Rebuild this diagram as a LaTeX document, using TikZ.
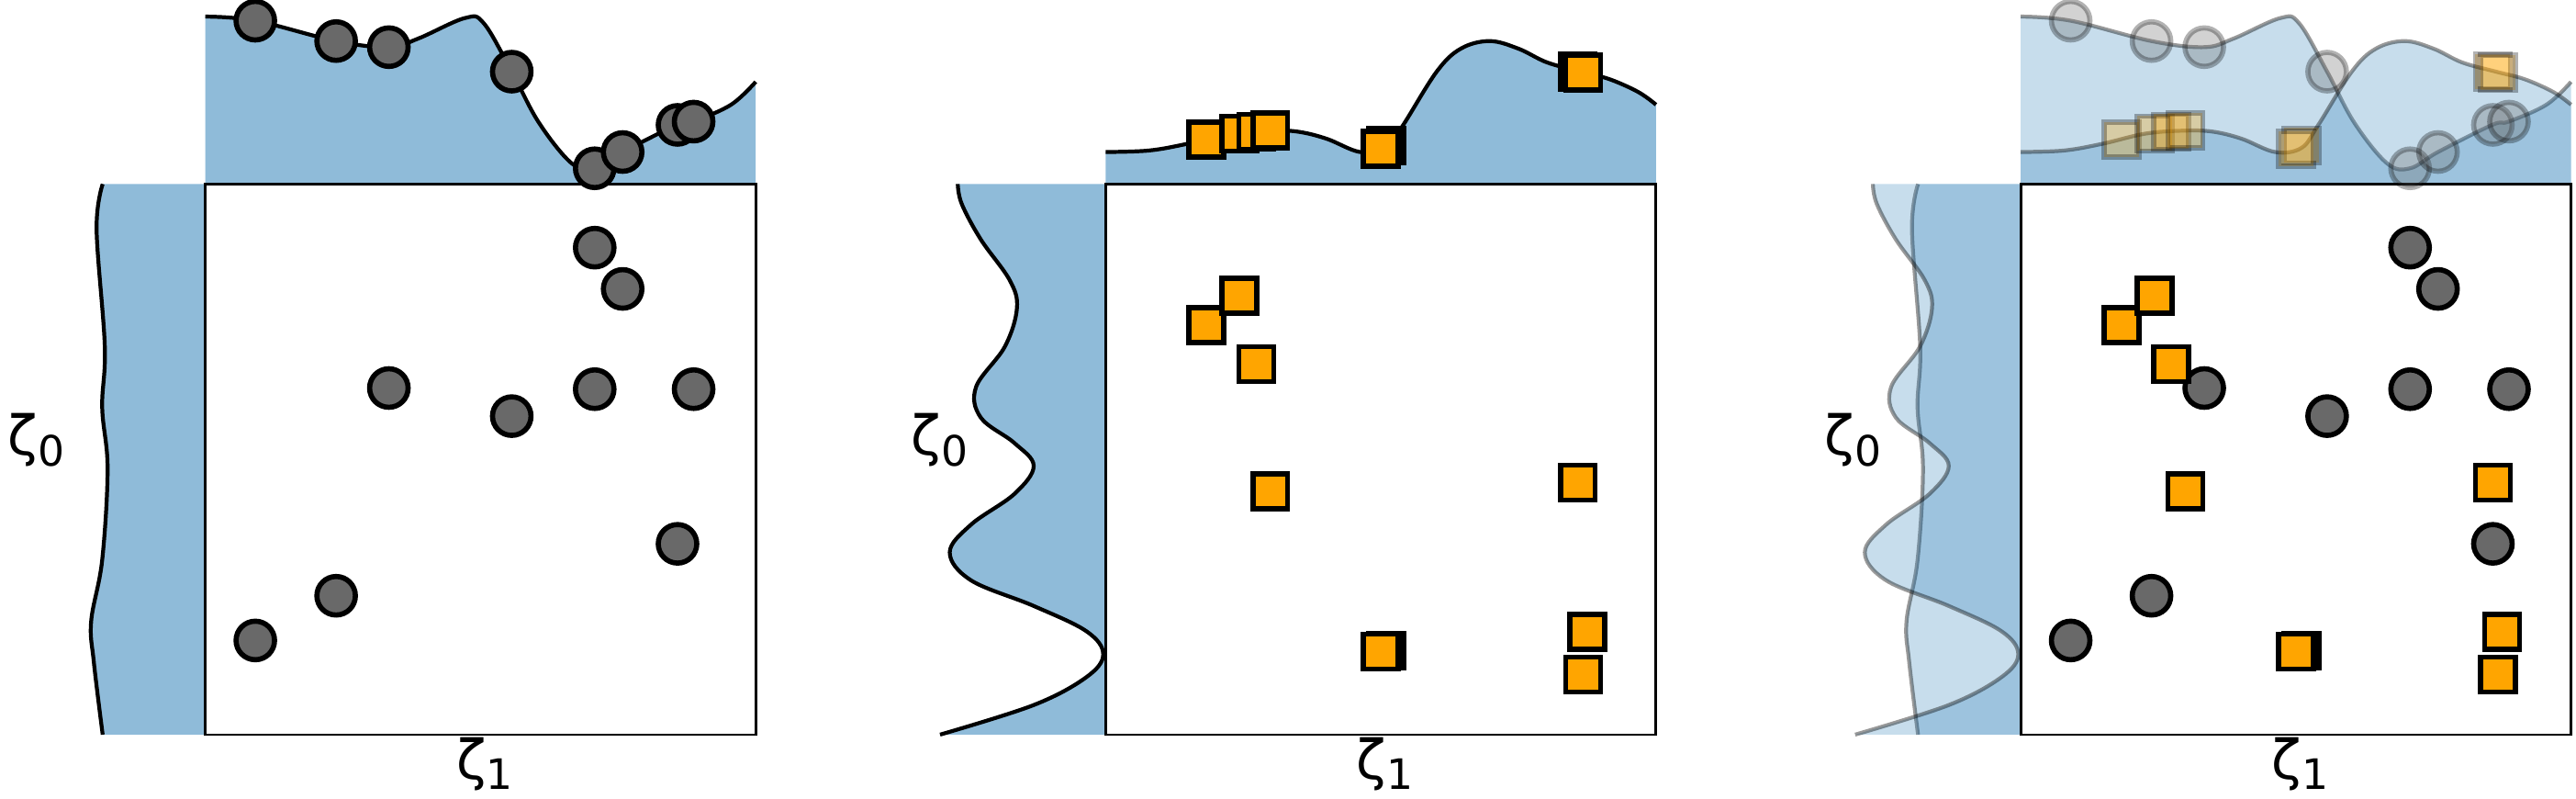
\documentclass[tikz,border=0pt]{standalone}
\usepackage{fontspec}
\setmainfont{DejaVu Sans}
\usepackage{tikz}

\definecolor{kdeblue}{RGB}{31,119,180}
\definecolor{ptgray}{RGB}{105,105,105}
\definecolor{ptorange}{RGB}{255,165,0}

% marginal density curves, relative to the top left corner of a box
\newcommand\kdetop[3]{%
  \fill[#1] (0,0) -- plot[smooth,tension=0.6] coordinates {#3} -- (335,0) -- cycle;
  \draw[kdeline,#2] plot[smooth,tension=0.6] coordinates {#3};}
\newcommand\kdeleft[3]{%
  \fill[#1] (0,0) -- plot[smooth,tension=0.6] coordinates {#3} -- (0,335) -- cycle;
  \draw[kdeline,#2] plot[smooth,tension=0.6] coordinates {#3};}
\newcommand\topA[2]{\kdetop{#1}{#2}{(0,-101.9) (30.4,-99.4) (79.6,-87) (111.7,-83.3) (129.5,-88.5) (158,-101) (169.5,-97.8) (186.5,-68.4) (203,-37.4) (223,-12.6) (237,-9.6) (254,-19.5) (287,-36) (297,-38) (320,-48.3) (335,-62.2)}}
\newcommand\leftA[2]{\kdeleft{#1}{#2}{(-62.5,0) (-66.2,27.6) (-61.2,98.8) (-62.8,135.9) (-59.5,173.1) (-62.8,228.8) (-69.5,265.9) (-67.9,290.7) (-62.5,335)}}
\newcommand\topB[2]{\kdetop{#1}{#2}{(0,-19.5) (26.3,-20.4) (49.7,-24.5) (76,-30.7) (99.3,-32.5) (116.8,-31.9) (134.4,-27.6) (154.8,-19.5) (170.9,-22) (181.1,-35.9) (201.5,-68.4) (216.2,-82.4) (233.7,-87) (251.2,-82.4) (268.7,-74) (289.2,-68.4) (306.7,-63.8) (324.2,-56) (335,-48.3)}}
\newcommand\leftB[2]{\kdeleft{#1}{#2}{(-90,0) (-87.6,12.1) (-76,33.7) (-58.4,58.5) (-54,75.5) (-61.3,98.8) (-78.9,123.5) (-76,142.1) (-55.5,157.6) (-43.8,171.5) (-55.5,188.5) (-81.8,207.1) (-94.9,224.1) (-81.8,241.2) (-43.8,256.7) (-11.7,272.1) (-1.5,286.1) (-11.7,300) (-43.8,317) (-100.8,335)}}

\newcommand\circlist{30.4/277.7,79.6/250.5,111.7/124.1,186.5/141.2,237/124.8,297.2/124.8,237/38.7,254/63.8,287.4/218.9}
\newcommand\circtop{30.4/-99.4,79.6/-87,111.7/-83.3,186.5/-68.4,237/-9.6,254/-19.5,287.4/-36,297.2/-38}
\newcommand\sqlist{61.3/85.8,81.5/67.8,91.7/109.6,100.2/187,287.4/181.7,170.9/283.9,167.4/284.5,293/272.4,290.6/298.5}
\newcommand\sqtop{61.3/-27.2,81.5/-30.7,91.7/-31.9,100.2/-32.5,170.9/-23.5,167.4/-21.4,287.4/-68.4,290.6/-67.8}

\newcommand\zlab[1]{ζ\raisebox{-0.35ex}{\fontsize{13}{13}\selectfont #1}}

\begin{document}
\begin{tikzpicture}[x=0.01791cm, y=-0.01791cm,
    kde/.style={fill=kdeblue, fill opacity=0.5},
    kdelight/.style={fill=kdeblue, fill opacity=0.25},
    kdeline/.style={line width=1.2pt},
    dot/.style={circle, draw, line width=1.6pt, fill=ptgray, minimum size=0.42cm, inner sep=0pt},
    sq/.style={rectangle, draw, line width=1.6pt, fill=ptorange, minimum size=0.38cm, inner sep=0pt},
    faded/.style={opacity=0.3},
    axlabel/.style={font=\fontsize{17}{20}\selectfont, inner sep=0pt}]
  \useasboundingbox (0,0) rectangle (1568,486);

  % left panel
  \begin{scope}[shift={(125,112)}]
    \topA{kde}{}
    \leftA{kde}{}
    \draw[line width=0.8pt] (0,0) rectangle (335,335);
    \foreach \x/\y [count=\i] in \circlist
      \node[dot] (a\i) at (\x,\y) {};
    \foreach \x/\y [count=\i] in \circtop
      \node[dot] (ta\i) at (\x,\y) {};
    \node[axlabel] (za0) at (-103,156) {\zlab{0}};
    \node[axlabel] (za1) at (170,353) {\zlab{1}};
  \end{scope}

  % middle panel
  \begin{scope}[shift={(673,112)}]
    \topB{kde}{}
    \leftB{kde}{}
    \draw[line width=0.8pt] (0,0) rectangle (335,335);
    \foreach \x/\y [count=\i] in \sqlist
      \node[sq] (b\i) at (\x,\y) {};
    \foreach \x/\y [count=\i] in \sqtop
      \node[sq] (tb\i) at (\x,\y) {};
    \node[axlabel] (zb0) at (-101,156) {\zlab{0}};
    \node[axlabel] (zb1) at (170,353) {\zlab{1}};
  \end{scope}

  % right panel
  \begin{scope}[shift={(1230,112)}]
    \topA{kdelight}{draw opacity=0.4}
    \topB{kdelight}{draw opacity=0.4}
    \leftA{kdelight}{draw opacity=0.4}
    \leftB{kdelight}{draw opacity=0.4}
    \draw[line width=0.8pt] (0,0) rectangle (335,335);
    \foreach \x/\y [count=\i] in \circtop
      \node[dot, faded] (tc\i) at (\x,\y) {};
    \foreach \x/\y [count=\i] in \sqtop
      \node[sq, faded] (td\i) at (\x,\y) {};
    \foreach \x/\y [count=\i] in \circlist
      \node[dot] (c\i) at (\x,\y) {};
    \foreach \x/\y [count=\i] in \sqlist
      \node[sq] (d\i) at (\x,\y) {};
    \node[axlabel] (zc0) at (-102,156) {\zlab{0}};
    \node[axlabel] (zc1) at (170,353) {\zlab{1}};
  \end{scope}
\end{tikzpicture}
\end{document}
